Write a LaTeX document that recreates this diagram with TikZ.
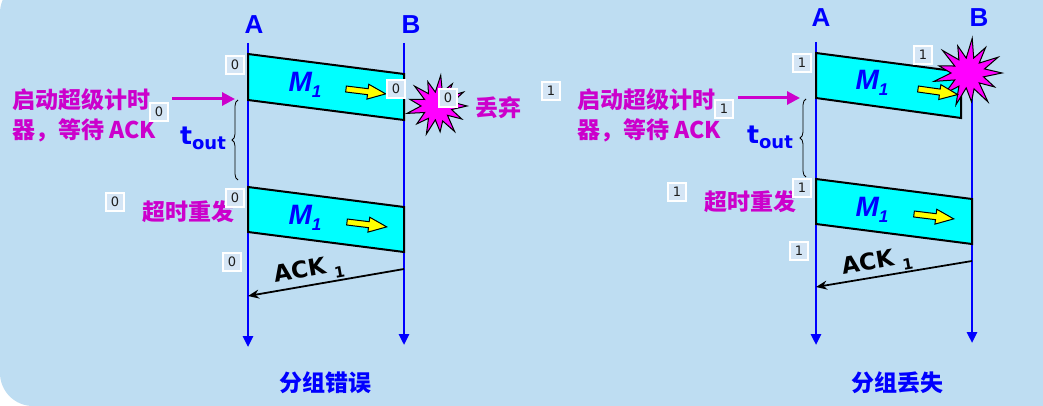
\documentclass[tikz,border=0pt]{standalone}
\usepackage{fontspec}
\setmainfont{DejaVu Sans}
\newfontfamily\cjk{Noto Sans CJK SC}
\newfontfamily\arialf{Liberation Sans}
\usetikzlibrary{arrows.meta,decorations.pathreplacing}
\definecolor{bgblue}{RGB}{190,221,242}
\definecolor{boxfill}{RGB}{212,229,245}
\definecolor{mag}{RGB}{204,0,204}
\definecolor{starmag}{RGB}{255,0,255}
\definecolor{lineblue}{RGB}{0,0,255}
\definecolor{boxtext}{RGB}{30,30,30}
\definecolor{framecyan}{RGB}{0,255,255}
\definecolor{arrowyellow}{RGB}{255,255,0}
\tikzset{
  timeline/.style={draw=lineblue, line width=2.6pt, -{Triangle[width=10pt,length=11pt]}},
  frame/.style={fill=framecyan, draw=black, line width=2pt, line join=miter},
  ylarrow/.style={fill=arrowyellow, draw=black, line width=1pt, line join=miter},
  burst/.style={fill=starmag, draw=black, line width=1pt},
  numbox/.style={fill=boxfill, draw=white, line width=1.2pt, minimum width=18pt, minimum height=18pt, inner sep=0pt, font=\fontsize{13}{13}\selectfont, text=boxtext},
  magtext/.style={text=mag, font=\cjk\bfseries\fontsize{23}{30}\selectfont, inner sep=0pt},
  captext/.style={text=lineblue, font=\cjk\bfseries\fontsize{23}{30}\selectfont, inner sep=0pt},
  endpt/.style={font=\arialf\bfseries\fontsize{26}{26}\selectfont, text=lineblue, inner sep=0pt},
  mlabel/.style={font=\arialf\bfseries\itshape\fontsize{28}{28}\selectfont, text=lineblue, inner sep=0pt},
  toutlabel/.style={font=\bfseries\fontsize{25}{25}\selectfont, text=lineblue, inner sep=0pt},
  acklabel/.style={font=\bfseries\fontsize{23}{23}\selectfont, text=black, inner sep=0pt},
  magarrow/.style={draw=mag, line width=3pt, -{Triangle[width=13pt,length=13pt]}},
  ackline/.style={draw=black, line width=1.8pt, -{Stealth[width=9pt,length=11pt]}},
  timerbrace/.style={draw=black, line width=0.8pt, decorate, decoration={brace, amplitude=6pt}},
  yarr/.pic={\filldraw[ylarrow] (0,-3) -- (22,-3) -- (22,-7.5) -- (40,0) -- (22,7.5) -- (22,3) -- (0,3) -- cycle;}
}
\newcommand{\mone}{M\raisebox{-6pt}{\fontsize{17}{17}\selectfont 1}}
\newcommand{\tout}{t\raisebox{-5pt}{\fontsize{18}{18}\selectfont out}}
\newcommand{\ackone}{ACK\,\,\raisebox{-6pt}{\fontsize{15}{15}\selectfont 1}}
\begin{document}
\begin{tikzpicture}[x=1pt,y=-1pt]
\useasboundingbox (0,0) rectangle (1043,406);
\fill[white] (0,0) rectangle (1043,406);
\fill[bgblue, rounded corners=33pt] (0,-20) rectangle (1100,406);

% ---------------- left panel: packet error ----------------
\coordinate (LAtop) at (248,43);
\coordinate (LAbot) at (248,347);
\coordinate (LBtop) at (404,43);
\coordinate (LBbot) at (404,345);
\draw[timeline] (LAtop) -- (LAbot);
\draw[timeline] (LBtop) -- (LBbot);
\node[endpt] (LA) at (254,25) {A};
\node[endpt] (LB) at (411,25) {B};

\filldraw[frame] (248,54) -- (404,74) -- (404,120) -- (248,100) -- cycle;
\filldraw[frame] (248,187) -- (404,207) -- (404,252) -- (248,232) -- cycle;

\begin{scope}[shift={(437,106)}]
\filldraw[burst] (0:30) \foreach \i/\r in {1/15,2/28,3/14,4/31,5/16,6/26,7/14,8/30,9/15,10/27,11/14,12/31,13/16,14/28,15/14,16/30,17/15,18/26,19/14,20/31,21/15,22/27,23/14,24/30,25/16} { -- ({\i*360/26}:\r) } -- cycle;
\end{scope}

\pic[rotate=-7] at (346,89) {yarr};
\pic[rotate=-7] at (347,222) {yarr};

\node[mlabel] (LM1) at (305,85) {\mone};
\node[mlabel] (LM2) at (305,218) {\mone};

\coordinate (LstartA) at (172,99);
\coordinate (LstartB) at (235,99);
\draw[magarrow] (LstartA) -- (LstartB);
\coordinate (LbrB) at (238,180);
\coordinate (LbrT) at (238,100);
\draw[timerbrace] (LbrB) -- (LbrT);
\node[toutlabel] (Ltout) at (203,138) {\tout};

\coordinate (LackB) at (404,269);
\coordinate (LackA) at (248,296);
\draw[ackline] (LackB) -- (LackA);
\node[acklabel, rotate=10] (Lack) at (309,271) {\ackone};

\node[magtext, anchor=west, align=left] (Lstart) at (12,115) {启动超级计时\\器，等待 ACK};
\node[magtext, anchor=west] (Ldrop) at (475,108) {丢弃};
\node[magtext, anchor=west] (Lresend) at (142,212) {超时重发};
\node[captext] (Lcap) at (325,383) {分组错误};

\node[numbox] (lb1) at (235,65) {0};
\node[numbox] (lb2) at (396,89) {0};
\node[numbox] (lb3) at (448,98) {0};
\node[numbox] (lb4) at (159,112) {0};
\node[numbox] (lb5) at (115,202) {0};
\node[numbox] (lb6) at (235,198) {0};
\node[numbox] (lb7) at (232,262) {0};

% ---------------- right panel: packet loss ----------------
\coordinate (RAtop) at (816,42);
\coordinate (RAbot) at (816,345);
\coordinate (RBtop) at (972,42);
\coordinate (RBbot) at (972,343);
\draw[timeline] (RAtop) -- (RAbot);
\draw[timeline] (RBtop) -- (RBbot);
\node[endpt] (RA) at (821,18) {A};
\node[endpt] (RB) at (979,18) {B};

\filldraw[frame] (816,53) -- (961,72) -- (961,118) -- (816,98) -- cycle;
\filldraw[frame] (816,179) -- (972,199) -- (972,244) -- (816,224) -- cycle;

\begin{scope}[shift={(968,73)}]
\filldraw[burst] (0:34) \foreach \i/\r in {1/16,2/30,3/15,4/35,5/17,6/29,7/15,8/34,9/16,10/31,11/15,12/35,13/17,14/30,15/15,16/34,17/16,18/29,19/15,20/35,21/16,22/31,23/15,24/34,25/17} { -- ({\i*360/26}:\r) } -- cycle;
\end{scope}

\pic[rotate=-8] at (918,89) {yarr};
\pic[rotate=-7] at (914,214) {yarr};

\node[mlabel] (RM1) at (872,83) {\mone};
\node[mlabel] (RM2) at (872,210) {\mone};

\coordinate (RstartA) at (738,98);
\coordinate (RstartB) at (800,98);
\draw[magarrow] (RstartA) -- (RstartB);
\coordinate (RbrB) at (806,177);
\coordinate (RbrT) at (806,99);
\draw[timerbrace] (RbrB) -- (RbrT);
\node[toutlabel] (Rtout) at (770,137) {\tout};

\coordinate (RackB) at (972,261);
\coordinate (RackA) at (816,287);
\draw[ackline] (RackB) -- (RackA);
\node[acklabel, rotate=10] (Rack) at (877,263) {\ackone};

\node[magtext, anchor=west, align=left] (Rstart) at (577,115) {启动超级计时\\器，等待 ACK};
\node[magtext, anchor=west] (Rresend) at (704,202) {超时重发};
\node[captext] (Rcap) at (897,383) {分组丢失};

\node[numbox] (rb1) at (923,55) {1};
\node[numbox] (rb2) at (802,63) {1};
\node[numbox] (rb3) at (551,91) {1};
\node[numbox] (rb4) at (724,109) {1};
\node[numbox] (rb5) at (677,192) {1};
\node[numbox] (rb6) at (802,188) {1};
\node[numbox] (rb7) at (799,251) {1};
\end{tikzpicture}
\end{document}
